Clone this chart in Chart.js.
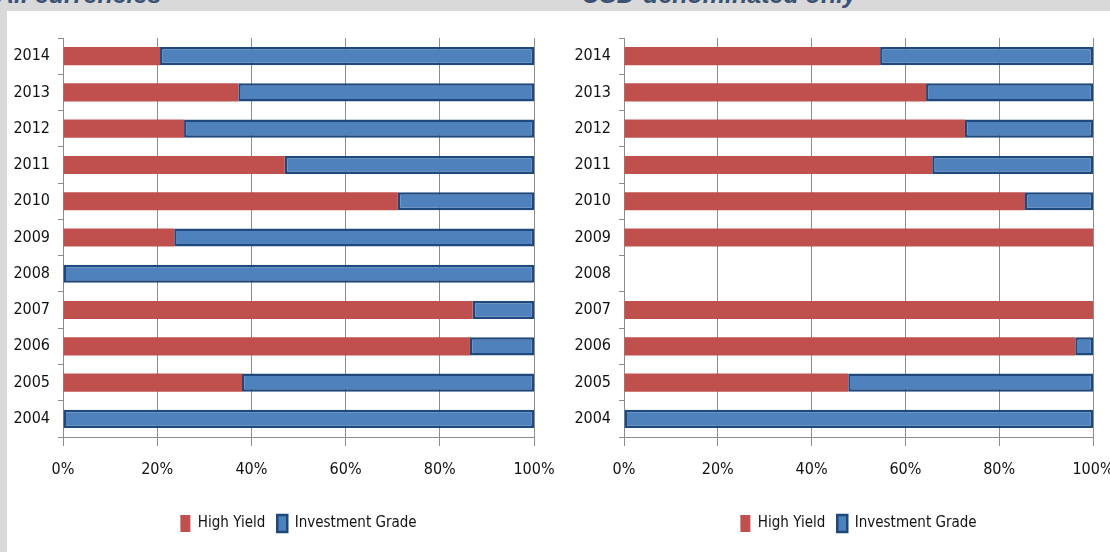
<!DOCTYPE html>
<html>
<head>
<meta charset="utf-8">
<script src="https://cdn.jsdelivr.net/npm/chart.js@4.4.1/dist/chart.umd.min.js"></script>
<style>
  html, body { margin: 0; padding: 0; }
  body { width: 1110px; height: 552px; background: #d9d9d9; position: relative; overflow: hidden; }
  .panel { position: absolute; left: 7px; top: 11px; width: 1103px; height: 541px; background: #fff; }
  .title { position: absolute; font-family: "Liberation Sans", Arial, sans-serif; font-weight: bold; font-style: italic;
           font-size: 25px; color: #3b5274; line-height: 1; white-space: nowrap; }
  .box { position: absolute; top: 11px; height: 541px; }
</style>
</head>
<body>
<div class="title" style="left:-4px; top:-18px;">All currencies</div>
<div class="title" style="left:582px; top:-18px;">USD-denominated only</div>
<div class="panel"></div>
<div class="box" style="left:7px; width:548px;"><canvas id="left"></canvas></div>
<div class="box" style="left:560px; width:550px;"><canvas id="right"></canvas></div>
<script>
// years, top row first
var years = ['2014','2013','2012','2011','2010','2009','2008','2007','2006','2005','2004'];

// all currencies, share in %
var allHighYield  = [20.6, 37.2, 25.7, 47.1, 71.1, 23.6, 0, 87.0, 86.4, 38.0, 0];
var allInvGrade   = [79.4, 62.8, 74.3, 52.9, 28.9, 76.4, 100, 13.0, 13.6, 62.0, 100];

// USD-denominated only, share in %
var usdHighYield  = [54.6, 64.4, 72.7, 65.7, 85.5, 100, 0, 100, 96.2, 47.8, 0];
var usdInvGrade   = [45.4, 35.6, 27.3, 34.3, 14.5, 0, 0, 0, 3.8, 52.2, 100];

var xTicks = [0, 20, 40, 60, 80, 100];

var FONT = '"Liberation Sans Narrow", "DejaVu Sans Condensed", "Arial Narrow", sans-serif';

function makeChart(id, hy, ig, yWidth, padRight) {
    var ctx = document.getElementById(id).getContext('2d');
    return new Chart(ctx, {
        type: 'bar',
        data: {
            labels: years,
            datasets: [{
                label: 'High Yield',
                data: hy,
                backgroundColor: '#c0504d',
                borderWidth: 0,
                barPercentage: 0.5,
                categoryPercentage: 1.0
            }, {
                label: 'Investment Grade',
                data: ig,
                backgroundColor: '#4f81bd',
                borderColor: '#1f497d',
                borderWidth: 2.5,
                borderSkipped: false,
                barPercentage: 0.5,
                categoryPercentage: 1.0
            }]
        },
        options: {
            indexAxis: 'y',
            responsive: false,
            animation: false,
            devicePixelRatio: 1,
            layout: { padding: { top: 27, right: padRight, bottom: 10, left: 0 } },
            scales: {
                x: {
                    stacked: true,
                    min: 0, max: 100,
                    afterBuildTicks: function (s) { s.ticks = xTicks.map(function (v) { return {value: v}; }); },
                    afterFit: function (s) { s.height = 66; s.paddingLeft = 0; s.paddingRight = 0; },
                    grid: { color: '#8c8c8c', lineWidth: 1, tickLength: 9 },
                    border: { color: '#8c8c8c' },
                    ticks: {
                        color: '#111',
                        font: { family: FONT, size: 16 },
                        padding: 14,
                        callback: function (v) { return v + '%'; }
                    }
                },
                y: {
                    stacked: true,
                    afterFit: function (s) { s.width = yWidth; },
                    grid: { drawOnChartArea: false, color: '#8c8c8c', tickLength: 5, offset: true },
                    border: { color: '#8c8c8c' },
                    ticks: { color: '#111', font: { family: FONT, size: 16 }, padding: 8 }
                }
            },
            plugins: {
                tooltip: { enabled: false },
                legend: {
                    position: 'bottom',
                    fullSize: false,
                    labels: {
                        color: '#111',
                        font: { family: FONT, size: 15 },
                        boxWidth: 10,
                        boxHeight: 17,
                        padding: 12
                    }
                }
            }
        }
    });
}

var lc = document.getElementById('left');
lc.width = 548; lc.height = 541;
var rc = document.getElementById('right');
rc.width = 550; rc.height = 541;

makeChart('left', allHighYield, allInvGrade, 56, 21);
makeChart('right', usdHighYield, usdInvGrade, 64, 17);
</script>
</body>
</html>
